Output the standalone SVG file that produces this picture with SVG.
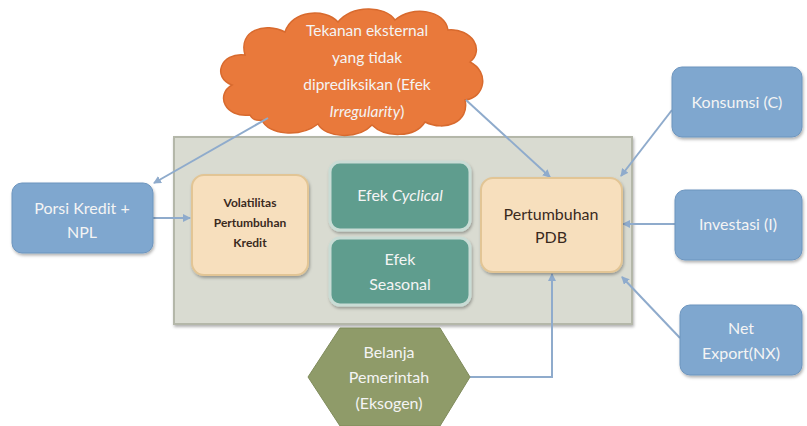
<svg xmlns="http://www.w3.org/2000/svg" width="807" height="426" viewBox="0 0 807 426">
<defs>
<style>
.t{font-family:"Lato","Open Sans",sans-serif;text-anchor:middle}
.w{fill:#f4f4f4}
.d{fill:#3a2a1e}
.blue{fill:#7fa7cf;stroke:#6d95be;stroke-width:1}
.teal{fill:#5f9d8e;stroke:#c9dcd5;stroke-width:3}
.peach{fill:#f7dfbd;stroke:#e2c595;stroke-width:2}
.conn{fill:none;stroke:#8fabcc;stroke-width:2}
</style>
<marker id="ah" markerWidth="8" markerHeight="8" refX="7" refY="4" orient="auto" markerUnits="userSpaceOnUse">
<path d="M0,0 L8,4 L0,8 z" fill="#8fabcc"/>
</marker>
<filter id="sh" x="-10%" y="-10%" width="120%" height="130%">
<feDropShadow dx="1" dy="2" stdDeviation="1.5" flood-color="#000" flood-opacity="0.3"/>
</filter>
</defs>
<rect width="807" height="426" fill="#ffffff"/>

<g id="container">
<rect x="174" y="137" width="458" height="187" fill="#d9dbd1" stroke="#b4b7a9" stroke-width="2" filter="url(#sh)"/>
</g>

<g id="cloud">
<path d="M250,115 C225,118 215,95 232,85 C212,78 220,52 245,55 C238,30 265,22 285,32 C292,10 325,8 338,22 C352,5 385,5 395,20 C412,5 445,10 448,30 C472,28 485,50 470,62 C490,72 485,98 465,100 C470,122 445,132 425,122 C415,138 385,138 372,125 C358,140 325,138 318,124 C300,138 268,135 262,120 C256,121 252,119 250,115 Z" fill="#e9793b" stroke="#d86a2e" stroke-width="1.5"/>
<text class="t w" x="367" y="36" font-size="15.5">Tekanan eksternal</text>
<text class="t w" x="367" y="63" font-size="15.5">yang tidak</text>
<text class="t w" x="367" y="90" font-size="15.5">diprediksikan (Efek</text>
<text class="t w" x="367" y="117" font-size="15.5"><tspan font-style="italic">Irregularity</tspan>)</text>
</g>

<g id="connectors">
<line class="conn" x1="268" y1="118" x2="154" y2="183" marker-end="url(#ah)"/>
<line class="conn" x1="466" y1="100" x2="550" y2="177" marker-end="url(#ah)"/>
<line class="conn" x1="153" y1="218" x2="190" y2="218" marker-end="url(#ah)"/>
<line class="conn" x1="672" y1="110" x2="621" y2="176" marker-end="url(#ah)"/>
<line class="conn" x1="675" y1="224" x2="623" y2="224" marker-end="url(#ah)"/>
<line class="conn" x1="680" y1="338" x2="622" y2="277" marker-end="url(#ah)"/>
<polyline class="conn" points="470,377 552,377 552,274" marker-end="url(#ah)"/>
</g>

<g id="porsi">
<rect class="blue" x="12" y="183" width="141" height="70" rx="10" filter="url(#sh)"/>
<text class="t w" x="82" y="214" font-size="16">Porsi Kredit +</text>
<text class="t w" x="82" y="238" font-size="16">NPL</text>
</g>

<g id="volatilitas">
<rect class="peach" x="192" y="175" width="116" height="100" rx="12" filter="url(#sh)"/>
<text class="t d" x="250" y="207" font-size="12" font-weight="bold">Volatilitas</text>
<text class="t d" x="250" y="227" font-size="12" font-weight="bold">Pertumbuhan</text>
<text class="t d" x="250" y="247" font-size="12" font-weight="bold">Kredit</text>
</g>

<g id="cyclical">
<rect class="teal" x="330" y="162" width="140" height="68" rx="10" filter="url(#sh)"/>
<text class="t w" x="400" y="201" font-size="16">Efek <tspan font-style="italic">Cyclical</tspan></text>
</g>

<g id="seasonal">
<rect class="teal" x="330" y="238" width="140" height="67" rx="10" filter="url(#sh)"/>
<text class="t w" x="400" y="265" font-size="16">Efek</text>
<text class="t w" x="400" y="290" font-size="16">Seasonal</text>
</g>

<g id="pdb">
<rect class="peach" x="481" y="178" width="141" height="94" rx="12" filter="url(#sh)"/>
<text class="t d" x="551" y="220" font-size="16">Pertumbuhan</text>
<text class="t d" x="551" y="243" font-size="16">PDB</text>
</g>

<g id="konsumsi">
<rect class="blue" x="672" y="67" width="130" height="70" rx="10" filter="url(#sh)"/>
<text class="t w" x="737" y="108" font-size="16">Konsumsi (C)</text>
</g>

<g id="investasi">
<rect class="blue" x="675" y="190" width="127" height="70" rx="10" filter="url(#sh)"/>
<text class="t w" x="738" y="230" font-size="16">Investasi (I)</text>
</g>

<g id="netexport">
<rect class="blue" x="680" y="305" width="122" height="70" rx="10" filter="url(#sh)"/>
<text class="t w" x="741" y="334" font-size="16">Net</text>
<text class="t w" x="741" y="359" font-size="16">Export(NX)</text>
</g>

<g id="belanja">
<polygon points="308,377 340,328 440,328 470,377 440,426 340,426" fill="#8f9b69" stroke="#7f8b5b" stroke-width="1"/>
<text class="t w" x="389" y="358" font-size="16">Belanja</text>
<text class="t w" x="389" y="383" font-size="16">Pemerintah</text>
<text class="t w" x="389" y="409" font-size="16">(Eksogen)</text>
</g>
</svg>
